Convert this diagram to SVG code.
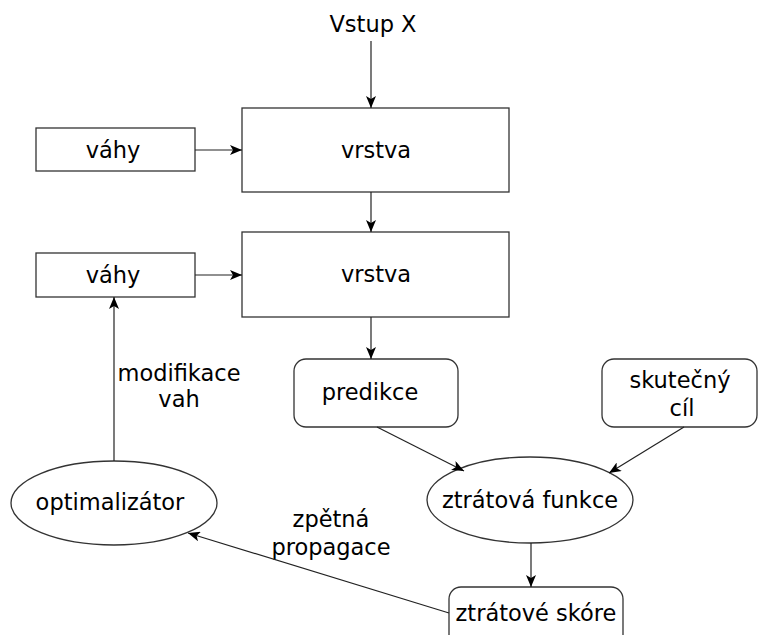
<svg xmlns="http://www.w3.org/2000/svg" width="758" height="635" viewBox="0 0 758 635">
<style>
text{font-family:"DejaVu Sans",sans-serif;font-size:22.5px;fill:#000;text-anchor:middle}
.b{fill:#fff;stroke:#333;stroke-width:1.3}
.c{fill:none;stroke:#222;stroke-width:1.2;marker-end:url(#a)}
</style>
<defs>
<marker id="a" viewBox="0 0 12 10" refX="12" refY="5" markerWidth="12" markerHeight="10" markerUnits="userSpaceOnUse" orient="auto">
<path d="M0,0 L12,5 L0,10 L3,5 z" fill="#000"/>
</marker>
</defs>
<text x="373" y="32">Vstup X</text>
<g id="vrstva1"><rect class="b" x="242" y="108" width="267" height="84"/><text x="376" y="158">vrstva</text></g>
<g id="vrstva2"><rect class="b" x="242" y="232" width="267" height="85"/><text x="376" y="282">vrstva</text></g>
<g id="vahy1"><rect class="b" x="36" y="128" width="159" height="43"/><text x="113" y="158">váhy</text></g>
<g id="vahy2"><rect class="b" x="36" y="253" width="159" height="44"/><text x="113" y="283">váhy</text></g>
<g id="predikce"><rect class="b" x="294" y="359" width="164" height="68" rx="12"/><text x="370" y="400">predikce</text></g>
<g id="cil"><rect class="b" x="602" y="359" width="155" height="68" rx="12"/><text x="680" y="388">skutečný</text><text x="682" y="416">cíl</text></g>
<g id="ztratova"><ellipse class="b" cx="530" cy="500" rx="103" ry="43"/><text x="530" y="508">ztrátová funkce</text></g>
<g id="optimalizator"><ellipse class="b" cx="114" cy="503" rx="103" ry="42"/><text x="110" y="510">optimalizátor</text></g>
<g id="skore"><rect class="b" x="449" y="587" width="174" height="60" rx="12"/><text x="536" y="621">ztrátové skóre</text></g>
<g id="labels">
<text x="179" y="381">modifikace</text><text x="179" y="407">vah</text>
<text x="331" y="527">zpětná</text><text x="331" y="555">propagace</text>
</g>
<g id="connectors">
<path class="c" d="M371,41 L371,108"/>
<path class="c" d="M371,192 L371,232"/>
<path class="c" d="M195,150 L242,150"/>
<path class="c" d="M195,275 L242,275"/>
<path class="c" d="M371,317 L371,359"/>
<path class="c" d="M377,427 L464,471"/>
<path class="c" d="M684,427 L609,473"/>
<path class="c" d="M531,543 L531,587"/>
<path class="c" d="M114,461 L114,297"/>
<path class="c" d="M449,613 L188,533"/>
</g>
</svg>
